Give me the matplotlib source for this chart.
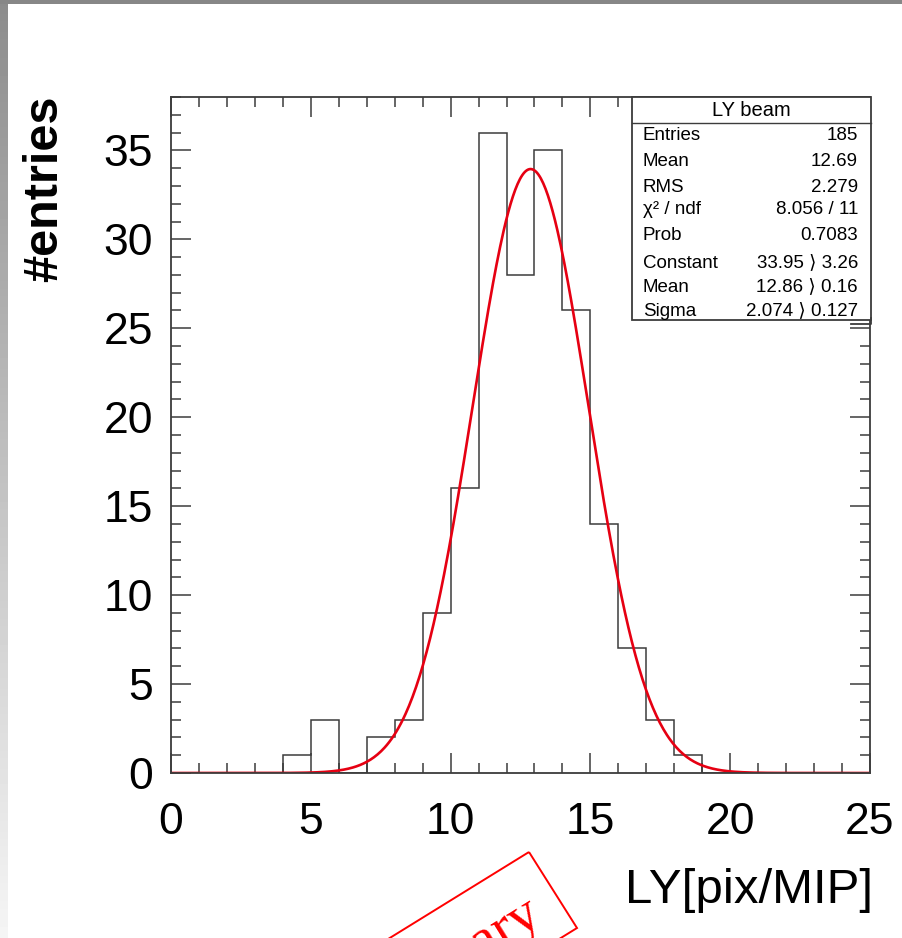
import numpy as np
import matplotlib
matplotlib.use('Agg')
import matplotlib.pyplot as plt
from matplotlib.patches import Rectangle, Polygon
from matplotlib.ticker import MultipleLocator

# ---------------- data ----------------
bin_edges = np.arange(0, 26, 1)
counts = [0, 0, 0, 0, 1, 3, 0, 2, 3, 9, 16, 36, 28, 35, 26, 14, 7, 3, 1,
          0, 0, 0, 0, 0, 0]
fit_constant = 33.95
fit_mean = 12.86
fit_sigma = 2.074

stat_title = "LY beam"
stat_labels = ["Entries", "Mean", "RMS", "χ² / ndf", "Prob",
               "Constant", "Mean", "Sigma"]
stat_values = ["185", "12.69", "2.279", "8.056 / 11", "0.7083",
               "33.95 \u27e9 3.26", "12.86 \u27e9 0.16", "2.074 \u27e9 0.127"]
x_title = "LY[pix/MIP]"
y_title = "#entries"
stamp_text = "Preliminary"

# ---------------- figure ----------------
plt.rcParams['font.family'] = ['Liberation Sans', 'DejaVu Sans']
W, H = 903, 938
fig = plt.figure(figsize=(W / 100, H / 100), dpi=100)
fig.patch.set_facecolor('white')

def fx(x):
    return x / W

def fy(y):
    return 1 - y / H

# left gradient strip and top band
strip = fig.add_axes([0, 0, 8 / W, 1])
grad = np.linspace(140, 245, 256).reshape(-1, 1)
strip.imshow(grad, aspect='auto', cmap='gray', vmin=0, vmax=255,
             extent=[0, 1, 0, 1], origin='upper')
strip.set_axis_off()
fig.add_artist(Rectangle((0, fy(4)), 1, 4 / H, transform=fig.transFigure,
                         facecolor='#878787', edgecolor='none'))

ax = fig.add_axes([fx(171), fy(773), (870 - 171) / W, (773 - 97) / H])
ax.stairs(counts, bin_edges, color='#3c3c3c', lw=1.1)
xs = np.linspace(0, 25, 600)
ax.plot(xs, fit_constant * np.exp(-0.5 * ((xs - fit_mean) / fit_sigma) ** 2),
        color='#e60012', lw=1.9)
ax.set_xlim(0, 25)
ax.set_ylim(0, 38)
ax.xaxis.set_major_locator(MultipleLocator(5))
ax.xaxis.set_minor_locator(MultipleLocator(1))
ax.yaxis.set_major_locator(MultipleLocator(5))
ax.yaxis.set_minor_locator(MultipleLocator(1))
ax.tick_params(which='both', direction='in', top=True, right=True,
               color='#3c3c3c', width=1.1)
ax.tick_params(which='major', length=14.5, labelsize=32)
ax.tick_params(axis='x', which='major', pad=21)
ax.tick_params(axis='y', which='major', pad=13)
ax.tick_params(which='minor', length=7.2)
for s in ax.spines.values():
    s.set_linewidth(1.3)
    s.set_color('#3c3c3c')

# stats box
bx0, by0, bx1, by1 = 632, 97, 871, 320
ax.add_patch(Rectangle((fx(bx0), fy(by1)), (bx1 - bx0) / W, (by1 - by0) / H,
                       transform=fig.transFigure, facecolor='white',
                       edgecolor='#3c3c3c', lw=1.3, clip_on=False, zorder=10))
ax.plot([fx(bx0), fx(bx1)], [fy(123), fy(123)], transform=fig.transFigure,
        color='#3c3c3c', lw=1.0, clip_on=False, zorder=11)
ax.plot([fx(851), fx(871), fx(871)], [fy(324), fy(324), fy(318)],
        transform=fig.transFigure, color='#3c3c3c', lw=1.3, clip_on=False,
        zorder=11)
ax.text(fx((bx0 + bx1) / 2), fy(111), stat_title, transform=fig.transFigure,
        ha='center', va='center', fontsize=14.5, zorder=12)
row_y = [136, 161, 187, 210, 235, 263, 287, 311]
for lab, val, yy in zip(stat_labels, stat_values, row_y):
    ax.text(fx(643), fy(yy), lab, transform=fig.transFigure, ha='left',
            va='center', fontsize=13.5, zorder=12)
    ax.text(fx(858), fy(yy), val, transform=fig.transFigure, ha='right',
            va='center', fontsize=13.5, zorder=12)

# axis titles
fig.text(fx(45), fy(95), y_title, rotation=90, ha='center', va='top',
         fontsize=35, fontweight='bold')
fig.text(fx(873), fy(903), x_title, ha='right', va='baseline', fontsize=35.5)

# preliminary stamp
theta = np.deg2rad(31.7)
u = np.array([np.cos(theta), np.sin(theta)])
nrm = np.array([np.sin(theta), -np.cos(theta)])
T = np.array([529.0, H - 852.0])
R = np.array([577.0, H - 928.0])
L = 450.0
corners = [T, R, R - L * u, T - L * u]
poly = Polygon([(p[0] / W, p[1] / H) for p in corners], closed=True,
               transform=fig.transFigure, facecolor='none', edgecolor='red',
               lw=1.4)
fig.add_artist(poly)
C0 = (T + R) / 2 - 24 * u + 8 * nrm
fig.text(C0[0] / W, C0[1] / H, stamp_text, rotation=np.rad2deg(theta),
         rotation_mode='anchor', ha='right', va='center', color='red',
         fontsize=41, family=['Liberation Serif', 'DejaVu Serif'])

fig.savefig('out.png', dpi=100)
